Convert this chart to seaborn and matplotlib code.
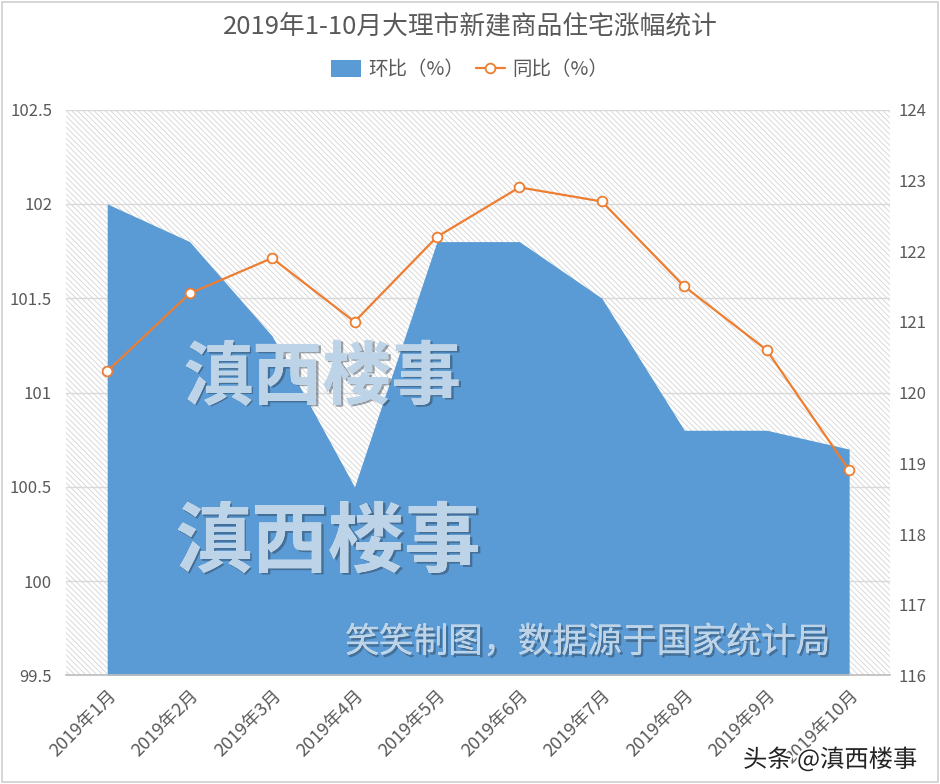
import matplotlib
matplotlib.use("Agg")
import matplotlib.pyplot as plt
import matplotlib.patheffects as pe
from matplotlib.patches import Rectangle
import seaborn as sns
import pandas as pd
import numpy as np

months = ["2019年1月", "2019年2月", "2019年3月", "2019年4月", "2019年5月",
          "2019年6月", "2019年7月", "2019年8月", "2019年9月", "2019年10月"]
huanbi = [102.0, 101.8, 101.3, 100.5, 101.8, 101.8, 101.5, 100.8, 100.8, 100.7]
tongbi = [120.3, 121.4, 121.9, 121.0, 122.2, 122.9, 122.7, 121.5, 120.6, 118.9]
left_ticks = [99.5, 100, 100.5, 101, 101.5, 102, 102.5]
left_labels = ["99.5", "100", "100.5", "101", "101.5", "102", "102.5"]
right_ticks = [116, 117, 118, 119, 120, 121, 122, 123, 124]

sns.set_theme(style="white")
plt.rcParams['font.family'] = ['Noto Sans CJK SC', 'DejaVu Sans']
plt.rcParams['hatch.linewidth'] = 0.6
plt.rcParams['hatch.color'] = '#d4d4d4'

df = pd.DataFrame({"month": months, "x": np.arange(len(months)),
                   "huanbi": huanbi, "tongbi": tongbi})

fig = plt.figure(figsize=(9.4, 7.84), dpi=100)
fig.patch.set_facecolor("white")
fig.patches.append(Rectangle((0.002, 0.002), 0.996, 0.996, transform=fig.transFigure,
                             fill=False, edgecolor="#d0d0d0", linewidth=1.2))

ax = fig.add_axes([0.0702, 0.1384, 0.877, 0.7219])
ax.set_facecolor("white")
ax.add_patch(Rectangle((0, 0), 1, 1, transform=ax.transAxes, facecolor="white",
                       edgecolor="#d4d4d4", hatch="\\\\\\\\\\\\", linewidth=0, zorder=0))

area = ax.fill_between(df["x"], huanbi, 99.5, color="#5B9BD5", linewidth=0, zorder=2,
                       label="环比（%）")
ax.set_xlim(-0.5, len(months) - 0.5)
ax.set_ylim(99.5, 102.5)
ax.set_yticks(left_ticks)
ax.set_yticklabels(left_labels)
for t in left_ticks:
    ax.axhline(t, color="#d9d9d9", linewidth=1, zorder=1)
ax.set_xticks(df["x"])
ax.set_xticklabels(months, rotation=45, ha="right", rotation_mode="anchor")
ax.set_xticks(np.arange(-0.5, len(months)), minor=True)
ax.tick_params(axis="x", which="major", length=0, pad=8, labelsize=13, labelcolor="#595959")
ax.tick_params(axis="x", which="minor", length=5, color="#bfbfbf", width=1, direction="out")
ax.tick_params(axis="y", length=0, labelsize=12, labelcolor="#595959", pad=10)
for s in ["left", "right", "top"]:
    ax.spines[s].set_visible(False)
ax.spines["bottom"].set_color("#bfbfbf")
ax.spines["bottom"].set_zorder(5)
ax.set_xlabel("")
ax.set_ylabel("")

ax2 = ax.twinx()
sns.lineplot(data=df, x="x", y="tongbi", ax=ax2, color="#ED7D31", linewidth=1.6,
             marker="o", markersize=7, markerfacecolor="white", markeredgecolor="#ED7D31",
             markeredgewidth=1.3, label="同比（%）", legend=False, zorder=4)
ax2.set_ylim(116, 124)
ax2.set_yticks(right_ticks)
ax2.tick_params(axis="y", length=0, labelsize=12, labelcolor="#595959", pad=6)
for s in ["left", "right", "top", "bottom"]:
    ax2.spines[s].set_visible(False)
ax2.set_xlabel("")
ax2.set_ylabel("")
ax2.grid(False)
ax2.set_xlim(-0.5, len(months) - 0.5)

h1, l1 = ax.get_legend_handles_labels()
h2, l2 = ax2.get_legend_handles_labels()
fig.legend(h1 + h2, l1 + l2, loc="center", bbox_to_anchor=(0.5, 0.911), ncol=2,
           frameon=False, fontsize=14, labelcolor="#595959", handlelength=1.5,
           handleheight=1.0, columnspacing=0.6, handletextpad=0.4)

fig.text(0.5, 0.966, "2019年1-10月大理市新建商品住宅涨幅统计", ha="center", va="center",
         fontsize=18.5, color="#595959")

# embossed watermarks: shadow, white fill, light-blue fill where over the area
area_path = area.get_paths()[0]
marks = [
    ("滇西楼事", 0.343, 1 - 378 / 784, 50, "bold"),
    ("滇西楼事", 0.349, 1 - 543 / 784, 55, "bold"),
    ("笑笑制图，数据源于国家统计局", 0.625, 1 - 643 / 784, 25, "normal"),
]
for txt, x, y, fs, fw in marks:
    fig.text(x, y, txt, ha="center", va="center", fontsize=fs, fontweight=fw,
             color="white", zorder=9,
             path_effects=[pe.SimplePatchShadow(offset=(1.6, -1.6),
                                                shadow_rgbFace="#2a3a4a", alpha=0.45)])
    fig.text(x, y, txt, ha="center", va="center", fontsize=fs, fontweight=fw,
             color="#f4f4f4", zorder=10)
    t = fig.text(x, y, txt, ha="center", va="center", fontsize=fs, fontweight=fw,
                 color="#bcd3e8", zorder=11)
    t.set_clip_path(area_path, ax.transData)
    t.set_clip_on(True)

fig.text(0.883, 1 - 760 / 784, "头条 @滇西楼事", ha="center", va="center",
         fontsize=17.5, color="#222222",
         path_effects=[pe.withStroke(linewidth=3, foreground="white")], zorder=10)

fig.savefig("out.png", dpi=100)
